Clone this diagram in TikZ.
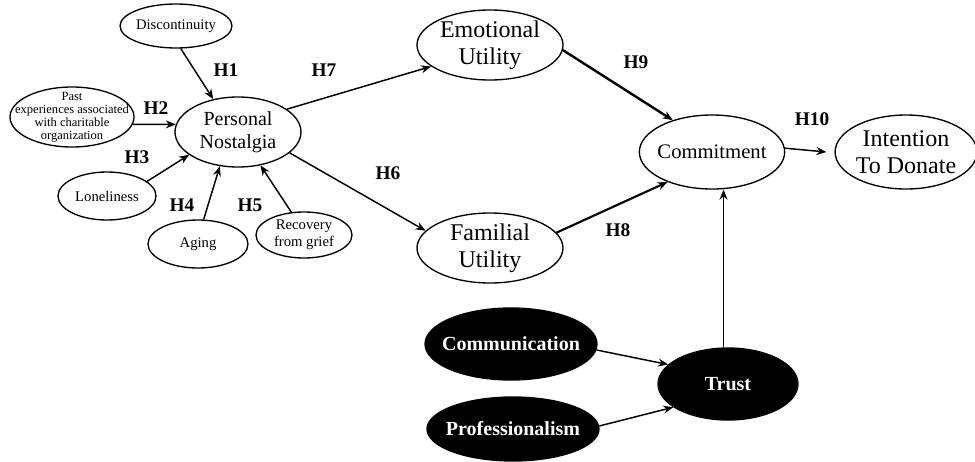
\documentclass[tikz,border=0pt]{standalone}
\usepackage{fontspec}
\setmainfont{Liberation Serif}
\usepackage{tikz}
\usetikzlibrary{arrows.meta,shapes,positioning}
\tikzset{>={Stealth[length=7.5pt,width=6pt]}}
\tikzset{ell/.style={ellipse,draw,line width=1pt,inner sep=0pt},
         dark/.style={ell,fill=black,text=white,font=\fontsize{15}{17}\selectfont\bfseries},
         hyp/.style={font=\fontsize{14.5}{16}\selectfont\bfseries},
         lnk/.style={->,line width=1.1pt}}
\newcommand{\zw}[1]{\makebox[0pt]{#1}}

\begin{document}
\begin{tikzpicture}[x=0.75pt,y=-0.75pt]
\useasboundingbox (0,0) rectangle (975,461);
\node[ell,minimum width=84pt,minimum height=33pt,font=\fontsize{11}{12}\selectfont] (disc) at (176,26) {\zw{Discontinuity}};
\node[ell,minimum width=93pt,minimum height=45pt,font=\fontsize{9.4}{9.8}\selectfont] (past) at (72,117)
  {\smash{\zw{\raisebox{-2.5pt}{\begin{tabular}{@{}c@{}}Past\\experiences associated\\with charitable\\organization\end{tabular}}}}};
\node[ell,minimum width=94.5pt,minimum height=52.5pt,align=center,font=\fontsize{15}{17}\selectfont] (pn) at (238,132) {Personal\\Nostalgia};
\node[ell,minimum width=73.5pt,minimum height=36pt,font=\fontsize{11}{12}\selectfont] (lone) at (107,196) {Loneliness};
\node[ell,minimum width=75pt,minimum height=36pt,font=\fontsize{11}{12}\selectfont] (aging) at (198,244) {Aging};
\node[ell,minimum width=72pt,minimum height=34.5pt,align=center,font=\fontsize{11}{12.5}\selectfont] (recov) at (304,235) {Recovery\\from grief};
\node[ell,minimum width=109.5pt,minimum height=52.5pt,align=center,font=\fontsize{18}{20}\selectfont] (emo) at (490,45) {Emotional\\Utility};
\node[ell,minimum width=109.5pt,minimum height=52.5pt,align=center,font=\fontsize{18}{20}\selectfont] (fam) at (490,248) {Familial\\Utility};
\node[ell,minimum width=109pt,minimum height=55.5pt,font=\fontsize{15.5}{17}\selectfont] (com) at (712,152) {\zw{Commitment}};
\node[ell,minimum width=102pt,minimum height=55.5pt,align=center,font=\fontsize{18}{20}\selectfont] (int) at (906,152) {Intention\\To Donate};
\node[dark,minimum width=129pt,minimum height=54pt] (comm) at (511,344) {\zw{Communication}};
\node[dark,minimum width=129pt,minimum height=48pt] (prof) at (513,429) {\zw{Professionalism}};
\node[dark,minimum width=105pt,minimum height=54pt] (trust) at (728,384) {Trust};

\node[hyp] (h1) at (226,70) {H1};
\node[hyp] (h2) at (156,108) {H2};
\node[hyp] (h3) at (137,157) {H3};
\node[hyp] (h4) at (182,205) {H4};
\node[hyp] (h5) at (250,205) {H5};
\node[hyp] (h6) at (388,173) {H6};
\node[hyp] (h7) at (324,70) {H7};
\node[hyp] (h8) at (618,230) {H8};
\node[hyp] (h9) at (636,62) {H9};
\node[hyp] (h10) at (812,119) {H10};

\draw[lnk] (disc.-78) -- (pn.127);
\draw[lnk] (past.-7) -- (pn.173);
\draw[lnk] (lone.20) -- (pn.205);
\draw[lnk] (aging.77) -- (pn.242);
\draw[lnk] (recov.119) -- (pn.304);
\draw[lnk] (pn.25) -- (emo.200);
\draw[lnk] (pn.-22) -- (fam.165);
\draw[lnk,line width=1.8pt] (emo.-4) -- (com.141);
\draw[lnk,line width=1.6pt] (fam.13) -- (com.214);
\draw[lnk] (com.3) -- ([xshift=-6pt]int.west);
\draw[lnk] (trust.97) -- (trust.97 |- com.south);
\draw[lnk] (comm.-4) -- (trust.162);
\draw[lnk] (prof.2) -- (trust.203);
\end{tikzpicture}
\end{document}
